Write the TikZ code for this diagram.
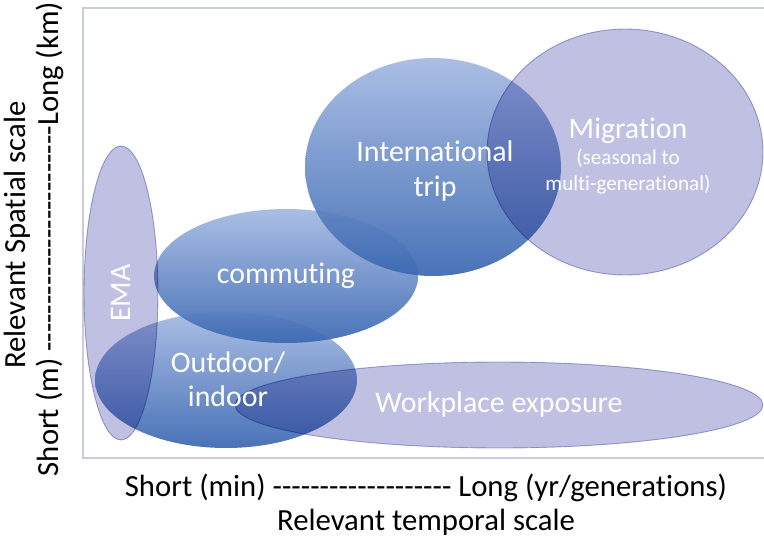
\documentclass[tikz,border=0pt]{standalone}
\usepackage{fontspec}
\setmainfont{Carlito}[Ligatures={TeXOff,NoCommon}]
\usetikzlibrary{shapes.geometric}
\definecolor{bluetop}{HTML}{A4B9E2}
\definecolor{bluebot}{HTML}{3B68B2}
\definecolor{lav}{HTML}{BFC0E2}
\definecolor{lavline}{HTML}{A8AAD6}
\definecolor{framegray}{HTML}{C9CDDA}

\begin{document}
\begin{tikzpicture}[x=0.02cm, y=-0.02cm,
  blueblob/.style={ellipse, inner sep=0pt, shade, top color=bluetop, bottom color=bluebot, fill opacity=0.93},
  lavblob/.style={ellipse, inner sep=0pt, fill=lav, draw=lavline, line width=0.5pt, blend mode=multiply},
  lbl/.style={text=white, align=center, font=\fontsize{17}{19.5}\selectfont},
  axislbl/.style={text=black, font=\fontsize{17.5}{20}\selectfont}
]
\useasboundingbox (0,0) rectangle (764,538);
% plot frame, open on the right
\draw[framegray, line width=1.1pt] (764,8) -| (83,458) -- (764,458);

% blue scales first, then the lavender ones on top
\node[blueblob, minimum width=5.24cm, minimum height=2.72cm] (outdoor) at (226,380) {};
\node[blueblob, minimum width=5.28cm, minimum height=2.68cm] (commute) at (286,276) {};
\node[blueblob, minimum width=5.12cm, minimum height=4.36cm] (trip) at (433,167) {};
\node[lavblob, minimum width=1.48cm, minimum height=5.88cm] (ema) at (121,293) {};
\node[lavblob, minimum width=5.52cm, minimum height=4.92cm] (migr) at (625,152) {};
\node[lavblob, minimum width=10.56cm, minimum height=1.72cm] (work) at (499,405) {};

% labels
\node[lbl, rotate=90] (emaT) at (121,293) {EMA};
\node[lbl] (outdoorT) at (228,379) {Outdoor/\\indoor};
\node[lbl] (commuteT) at (286,276) {commuting};
\node[lbl] (tripT) at (435,171) {International\\trip};
\node[lbl, font=\fontsize{12}{15}\selectfont] (migrT) at (628,156) {{\fontsize{17}{20}\selectfont Migration}\\(seasonal to\\multi-generational)};
\node[lbl] (workT) at (499,405) {Workplace exposure};

% axes
\node[axislbl] (tscale) at (426,488) {Short (min) ------------------- Long (yr/generations)};
\node[axislbl] (tname) at (426,522) {Relevant temporal scale};
\node[axislbl, rotate=90] (sname) at (17,235) {Relevant Spatial scale};
\node[axislbl, rotate=90] (sscale) at (50,239) {Short (m) ------------------------Long (km)};
\end{tikzpicture}
\end{document}
